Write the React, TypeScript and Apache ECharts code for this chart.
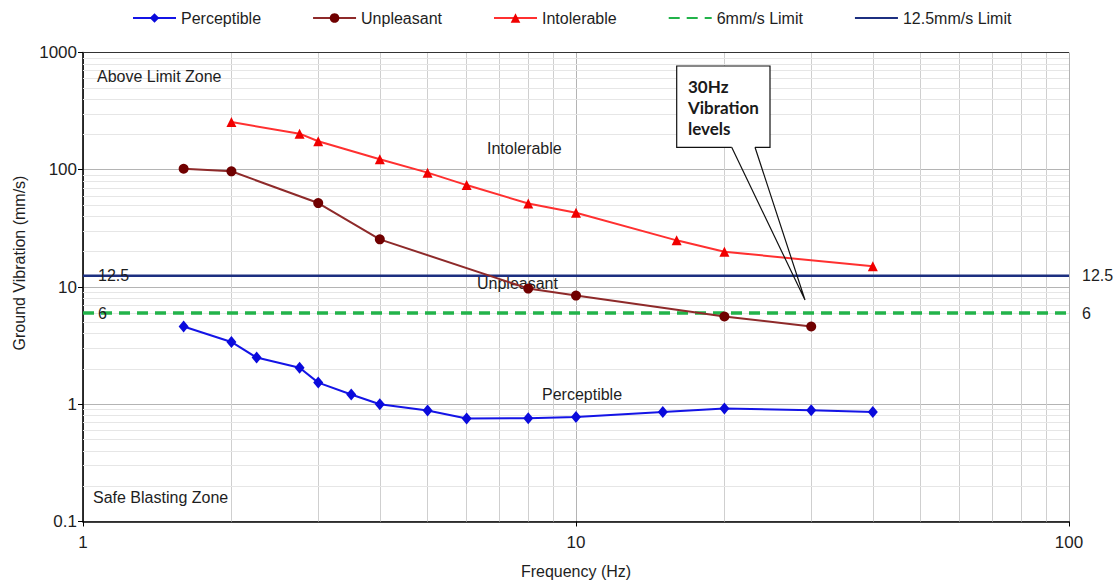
import React, { useEffect, useRef } from 'react';
import * as echarts from 'echarts';

const seriesNames = ['Perceptible', 'Unpleasant', 'Intolerable', '6mm/s Limit', '12.5mm/s Limit'];

const perceptibleX = [1.6, 2, 2.25, 2.75, 3, 3.5, 4, 5, 6, 8, 10, 15, 20, 30, 40];
const perceptibleY = [4.6, 3.4, 2.5, 2.05, 1.53, 1.21, 1.0, 0.885, 0.755, 0.76, 0.78, 0.86, 0.92, 0.89, 0.86];

const unpleasantX = [1.6, 2, 3, 4, 8, 10, 20, 30];
const unpleasantY = [102, 97, 52, 25.5, 9.7, 8.45, 5.6, 4.6];

const intolerableX = [2, 2.75, 3, 4, 5, 6, 8, 10, 16, 20, 40];
const intolerableY = [255, 203, 175, 123, 94.5, 74, 51.5, 43, 25, 20, 15];

const limitX = [1, 100];
const limit6 = 6;
const limit125 = 12.5;

const xTickLabels = ['1', '10', '100'];
const yTickLabels = ['0.1', '1', '10', '100', '1000'];

const minorXValues = [2, 3, 4, 5, 6, 7, 8, 9, 20, 30, 40, 50, 60, 70, 80, 90];
const minorYValues = [
  0.2, 0.3, 0.4, 0.5, 0.6, 0.7, 0.8, 0.9,
  2, 3, 4, 5, 6, 7, 8, 9,
  20, 30, 40, 50, 60, 70, 80, 90,
  200, 300, 400, 500, 600, 700, 800, 900,
];

const FONT = '"Liberation Sans", Arial, Helvetica, sans-serif';

const pickLabel = (labels: string[], v: number) => {
  const f = labels.find((l) => Math.abs(Math.log10(parseFloat(l)) - Math.log10(v)) < 1e-6);
  return f !== undefined ? f : String(v);
};

export default function App() {
  const ref = useRef<HTMLDivElement>(null);

  useEffect(() => {
    document.body.style.margin = '0';
    const chart = echarts.init(ref.current as HTMLDivElement, null, { renderer: 'svg' });
    const zip = (xs: number[], ys: number[]) => xs.map((x, i) => [x, ys[i]]);

    const textStyle = (size: number) => ({ fontSize: size, fontFamily: FONT, color: '#1e1e1e' });
    const gText = (text: string, x: number, y: number, extra: any = {}) => ({
      type: 'text',
      x,
      y,
      z: 3,
      style: {
        text,
        fill: '#1e1e1e',
        fontSize: 16,
        fontFamily: FONT,
        align: 'left',
        verticalAlign: 'middle',
        ...extra,
      },
    });

    const option: any = {
      animation: false,
      backgroundColor: '#ffffff',
      grid: {
        left: 83,
        top: 52.5,
        right: 47,
        bottom: 61.5,
        containLabel: false,
        outerBoundsMode: 'none',
      },
      legend: {
        left: 127,
        top: 5,
        itemWidth: 43,
        itemHeight: 12,
        itemGap: 51,
        textStyle: textStyle(16),
        data: seriesNames.map((n, i) => (i >= 3 ? { name: n, itemStyle: { opacity: 0 } } : { name: n })),
      },
      xAxis: {
        type: 'log',
        logBase: 10,
        min: 1,
        max: 100,
        axisLine: { show: true, lineStyle: { color: '#000', width: 1.6 } },
        axisTick: { show: true, length: 5, lineStyle: { color: '#000' } },
        axisLabel: {
          ...textStyle(17),
          margin: 12,
          formatter: (v: number) => pickLabel(xTickLabels, v),
        },
        splitLine: { show: true, lineStyle: { color: '#b4b4b4', width: 1 } },
        minorTick: { show: false },
        minorSplitLine: { show: false },
        name: 'Frequency (Hz)',
        nameLocation: 'middle',
        nameGap: 42,
        nameTextStyle: textStyle(16),
      },
      yAxis: {
        type: 'log',
        logBase: 10,
        min: 0.1,
        max: 1000,
        axisLine: { show: true, lineStyle: { color: '#000', width: 1.6 } },
        axisTick: { show: true, length: 5, lineStyle: { color: '#000' } },
        axisLabel: {
          ...textStyle(17),
          margin: 6,
          formatter: (v: number) => pickLabel(yTickLabels, v),
        },
        splitLine: { show: true, lineStyle: { color: '#b4b4b4', width: 1 } },
        minorTick: { show: false },
        minorSplitLine: { show: false },
      },
      graphic: [
        {
          type: 'text',
          x: 19,
          y: 263,
          rotation: Math.PI / 2,
          style: {
            text: 'Ground Vibration (mm/s)',
            fill: '#1e1e1e',
            fontSize: 16,
            fontFamily: FONT,
            align: 'center',
            verticalAlign: 'middle',
          },
        },
        gText('Above Limit Zone', 97, 76),
        gText('Safe Blasting Zone', 93, 497),
        gText('Intolerable', 487, 148),
        gText('Unpleasant', 477, 283),
        gText('Perceptible', 542, 394),
        {
          type: 'rect',
          z: 20,
          shape: { x: 676.7, y: 66, width: 93.3, height: 81.3 },
          style: { fill: '#ffffff', stroke: null },
        },
        {
          type: 'polyline',
          z: 21,
          shape: {
            points: [
              [755, 147.3],
              [770, 147.3],
              [770, 66],
              [676.7, 66],
              [676.7, 147.3],
              [731.7, 147.3],
            ],
          },
          style: { stroke: '#111', fill: null, lineWidth: 1.2 },
        },
        {
          type: 'polyline',
          z: 21,
          shape: {
            points: [
              [731.7, 147.3],
              [805, 300],
              [755, 147.3],
            ],
          },
          style: { stroke: '#111', fill: null, lineWidth: 1.2 },
        },
        {
          type: 'text',
          z: 22,
          x: 688,
          y: 76,
          style: {
            text: '30Hz\nVibration\nlevels',
            fill: '#1a1a1a',
            fontSize: 17,
            fontWeight: 'bold',
            fontFamily: 'Lato, "Open Sans", sans-serif',
            lineHeight: 21,
            align: 'left',
            verticalAlign: 'top',
          },
        },
      ],
      series: [
        {
          name: 'gridlines',
          type: 'line',
          data: [],
          silent: true,
          z: 1,
          markLine: {
            silent: true,
            z: 1,
            symbol: ['none', 'none'],
            label: { show: false },
            emphasis: { disabled: true },
            data: [
              ...minorXValues.map((v) => ({ xAxis: v, lineStyle: { color: '#cfcfcf', width: 1, type: 'solid' } })),
              ...minorYValues.map((v) => ({ yAxis: v, lineStyle: { color: '#e6e6e6', width: 1, type: 'solid' } })),
              { yAxis: 1000, lineStyle: { color: '#333', width: 1.2, type: 'solid' } },
            ],
          },
        },
        {
          name: 'Perceptible',
          type: 'line',
          data: zip(perceptibleX, perceptibleY),
          symbol: 'diamond',
          symbolSize: [10, 12],
          lineStyle: { color: '#1414e6', width: 2 },
          itemStyle: { color: '#0a0adc' },
          z: 4,
        },
        {
          name: 'Unpleasant',
          type: 'line',
          data: zip(unpleasantX, unpleasantY),
          symbol: 'circle',
          symbolSize: 10,
          lineStyle: { color: '#8e2a2a', width: 2 },
          itemStyle: { color: '#700000' },
          z: 4,
        },
        {
          name: 'Intolerable',
          type: 'line',
          data: zip(intolerableX, intolerableY),
          symbol: 'triangle',
          symbolSize: 10,
          lineStyle: { color: '#ff3030', width: 2 },
          itemStyle: { color: '#f00000' },
          z: 4,
        },
        {
          name: '6mm/s Limit',
          type: 'line',
          data: limitX.map((x) => [x, limit6]),
          symbol: 'none',
          lineStyle: { color: '#22b34a', width: 3.5, type: [11, 7] },
          itemStyle: { color: '#22b34a' },
          z: 3,
          endLabel: { show: true, formatter: String(limit6), distance: 13, ...textStyle(16) },
          markPoint: {
            symbol: 'circle',
            symbolSize: 0,
            silent: true,
            data: [{ coord: [limitX[0], limit6] }],
            label: { show: true, position: 'right', distance: 15, formatter: String(limit6), ...textStyle(16) },
          },
        },
        {
          name: '12.5mm/s Limit',
          type: 'line',
          data: limitX.map((x) => [x, limit125]),
          symbol: 'none',
          lineStyle: { color: '#1c2f80', width: 2.5 },
          itemStyle: { color: '#1c2f80' },
          z: 3,
          endLabel: { show: true, formatter: String(limit125), distance: 13, ...textStyle(16) },
          markPoint: {
            symbol: 'circle',
            symbolSize: 0,
            silent: true,
            data: [{ coord: [limitX[0], limit125] }],
            label: { show: true, position: 'right', distance: 15, formatter: String(limit125), ...textStyle(16) },
          },
        },
      ],
    };

    chart.setOption(option);
    return () => chart.dispose();
  }, []);

  return <div ref={ref} style={{ width: 1116, height: 583 }} />;
}
